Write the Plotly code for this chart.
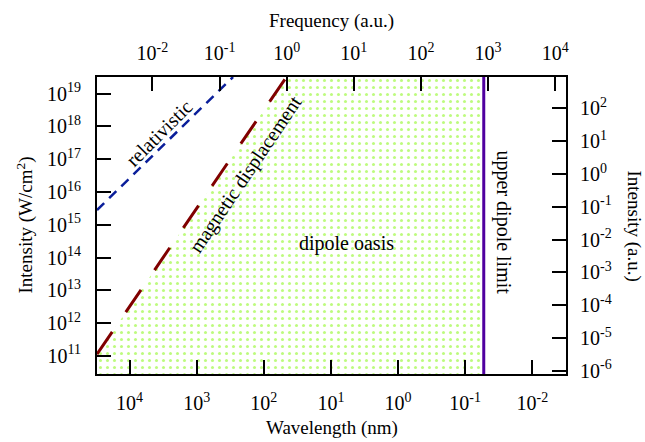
import numpy as np
import plotly.graph_objects as go

# ---------------- data ----------------
# tick positions / labels
wl_tickvals = [1e4, 1e3, 1e2, 1e1, 1e0, 1e-1, 1e-2]
wl_ticktext = ["10<sup>4</sup>", "10<sup>3</sup>", "10<sup>2</sup>", "10<sup>1</sup>",
               "10<sup>0</sup>", "10<sup>-1</sup>", "10<sup>-2</sup>"]
freq_tickvals = [1e-2, 1e-1, 1e0, 1e1, 1e2, 1e3, 1e4]
freq_ticktext = ["10<sup>-2</sup>", "10<sup>-1</sup>", "10<sup>0</sup>", "10<sup>1</sup>",
                 "10<sup>2</sup>", "10<sup>3</sup>", "10<sup>4</sup>"]
int_tickvals = [1e11, 1e12, 1e13, 1e14, 1e15, 1e16, 1e17, 1e18, 1e19]
int_ticktext = ["10<sup>%d</sup>" % e for e in range(11, 20)]
intau_tickvals = [1e-6, 1e-5, 1e-4, 1e-3, 1e-2, 1e-1, 1e0, 1e1, 1e2]
intau_ticktext = ["10<sup>%d</sup>" % e for e in range(-6, 3)]

# axis extents (wavelength in nm, intensity in W/cm^2)
wl_range = [3.05e4, 3.15e-3]
int_range = [2.8e10, 3.2e19]
AU_INTENSITY = 3.51e16   # W/cm^2 per atomic unit of intensity
AU_FREQ_NM = 45.563      # omega[a.u.] * lambda[nm]

# boundary lines (end points)
rel_wl = [3.05e4, 287.0]
rel_int = [2.8e15, 3.2e19]
mag_wl = [3.05e4, 46.0]
mag_int = [1.12e11, 3.2e19]
dip_wl = [0.0529, 0.0529]
dip_int = [2.8e10, 3.2e19]

# text labels (position in wavelength nm, intensity W/cm^2)
labels = ["relativistic", "magnetic displacement", "dipole oasis", "upper dipole limit"]
label_wl = [3610.0, 186.0, 5.8, 0.0268]
label_int = [6.2e17, 3.3e16, 2.6e14, 1.2e15]
label_angle = [-45, -56, 0, 90]

# ---------------- figure ----------------
FONT = "Liberation Serif, Times New Roman, serif"
fig = go.Figure()

# dipole oasis region
fill_x = [wl_range[0], mag_wl[0], mag_wl[1], dip_wl[0], dip_wl[1], wl_range[0]]
fill_y = [int_range[0], mag_int[0], mag_int[1], dip_int[1], dip_int[0], int_range[0]]
fig.add_trace(go.Scatter(
    x=fill_x, y=fill_y, mode="lines", fill="toself",
    line=dict(width=0, color="rgba(0,0,0,0)"),
    fillcolor="rgba(0,0,0,0)",
    fillpattern=dict(shape=".", fgcolor="#7cf500", bgcolor="white", size=7, solidity=0.15),
    showlegend=False, hoverinfo="skip"))

fig.add_trace(go.Scatter(x=rel_wl, y=rel_int, mode="lines",
                         line=dict(color="#0a1e9a", width=2.5, dash="10px,7px"),
                         showlegend=False))
fig.add_trace(go.Scatter(x=mag_wl, y=mag_int, mode="lines",
                         line=dict(color="#800000", width=3, dash="27px,24px"),
                         showlegend=False))
fig.add_trace(go.Scatter(x=dip_wl, y=dip_int, mode="lines",
                         line=dict(color="#5000a0", width=3),
                         showlegend=False))
# secondary axes carrier
fig.add_trace(go.Scatter(x=[1], y=[1], xaxis="x2", yaxis="y2", mode="markers",
                         marker=dict(opacity=0), showlegend=False, hoverinfo="skip"))

lw = np.log10(wl_range)
li = np.log10(int_range)
axis_common = dict(type="log", showgrid=False, zeroline=False, showline=True,
                   linecolor="black", linewidth=2, ticks="inside", ticklen=14,
                   tickwidth=2, tickcolor="black", tickmode="array",
                   tickfont=dict(family=FONT, size=20, color="black"))

fig.update_layout(
    width=645, height=442,
    margin=dict(l=97, r=79, t=77, b=68, pad=0),
    paper_bgcolor="white", plot_bgcolor="white",
    font=dict(family=FONT, size=20, color="black"),
    xaxis=dict(range=list(lw), tickvals=wl_tickvals, ticktext=wl_ticktext,
               side="bottom", ticklabelstandoff=10, **axis_common),
    xaxis2=dict(range=[np.log10(AU_FREQ_NM) - lw[0], np.log10(AU_FREQ_NM) - lw[1]],
                tickvals=freq_tickvals, ticktext=freq_ticktext,
                overlaying="x", side="top", ticklabelstandoff=7, **axis_common),
    yaxis=dict(range=list(li), tickvals=int_tickvals, ticktext=int_ticktext,
               side="left", ticklabelstandoff=10, **axis_common),
    yaxis2=dict(range=[li[0] - np.log10(AU_INTENSITY), li[1] - np.log10(AU_INTENSITY)],
                tickvals=intau_tickvals, ticktext=intau_ticktext,
                overlaying="y", side="right", ticklabelstandoff=8, **axis_common),
)

# curve / region labels
for t, xw, yi, a in zip(labels, label_wl, label_int, label_angle):
    fig.add_annotation(x=np.log10(xw), y=np.log10(yi), xref="x", yref="y", text=t,
                       showarrow=False, textangle=a,
                       font=dict(family=FONT, size=20, color="black"))

# axis titles
title_font = dict(family=FONT, size=19, color="black")
fig.add_annotation(x=0.5, y=0, xref="paper", yref="paper", text="Wavelength (nm)",
                   showarrow=False, yanchor="middle", yshift=-54, font=title_font)
fig.add_annotation(x=0.5, y=1, xref="paper", yref="paper", text="Frequency (a.u.)",
                   showarrow=False, yanchor="middle", yshift=56, font=title_font)
fig.add_annotation(x=0, y=0.5, xref="paper", yref="paper",
                   text="Intensity (W/cm<sup>2</sup>)", textangle=-90,
                   showarrow=False, xanchor="center", xshift=-72, font=title_font)
fig.add_annotation(x=1, y=0.5, xref="paper", yref="paper", text="Intensity (a.u.)",
                   textangle=90, showarrow=False, xanchor="center", xshift=68,
                   font=title_font)

fig.write_html("out.html")
